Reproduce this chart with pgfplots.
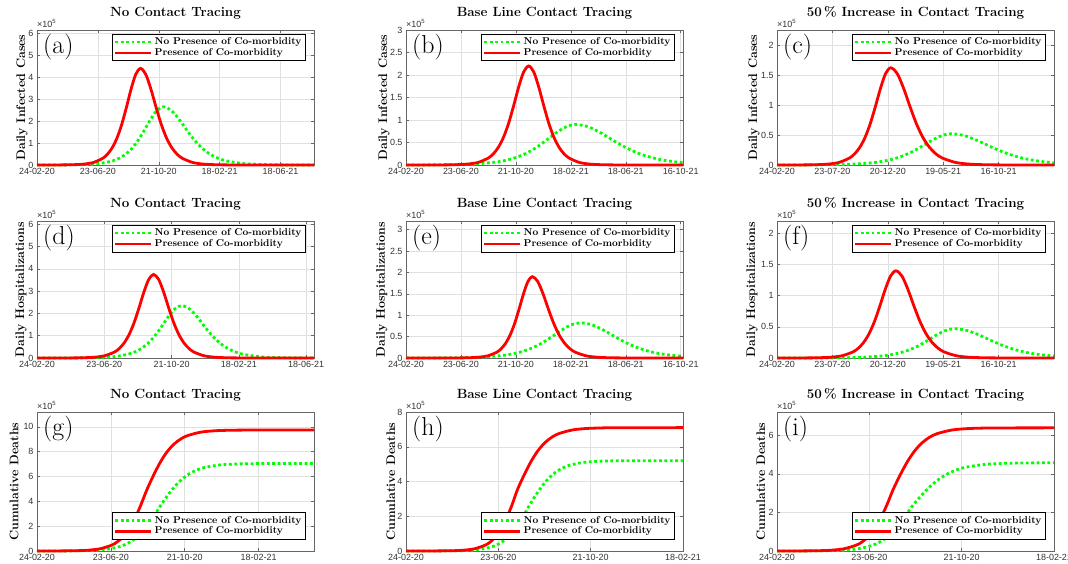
\documentclass[border=0pt]{standalone}
\usepackage{fontspec}
\setsansfont{Liberation Sans}
\usepackage{pgfplots}
\pgfplotsset{compat=1.18}
\definecolor{mgreen}{rgb}{0,1,0}
\definecolor{mred}{rgb}{1,0,0}
\pgfplotsset{
  panel/.style={
    scale only axis, width=277bp, anchor=south west,
    xmin=0, ymin=0,
    axis line style={black!60, line width=0.6bp},
    every tick/.style={black!60, line width=0.5bp},
    tick align=inside, major tick length=3bp,
    grid=major, major grid style={black!12, line width=0.5bp},
    ticklabel style={font=\sffamily\fontsize{9}{10}\selectfont, text=black!80},
    /pgf/number format/assume math mode=true,
    scaled y ticks=false, scaled x ticks=false,
    title style={font=\bfseries\fontsize{13.4}{15}\selectfont, at={(0.5,1)}, anchor=base, yshift=8bp},
    ylabel style={font=\bfseries\fontsize{12.5}{14}\selectfont},
    legend cell align=left,
    legend image code/.code={\draw[#1] (0bp,0bp) -- (36bp,0bp);},
    legend style={draw=black, fill=white, font=\bfseries\fontsize{10}{11}\selectfont, inner sep=1.5bp, row sep=-1.5bp},
    clip=false,
  },
  greenl/.style={mgreen, line width=2.8bp, dash pattern=on 2.8bp off 2.6bp, smooth},
  redl/.style={mred, line width=2.8bp, smooth},
  top legend/.style={legend style={at={(0.968,0.97)}, anchor=north east}},
  bottom legend/.style={legend style={at={(0.968,0.085)}, anchor=south east}},
  ylab/.style={y label style={at={(axis description cs:#1,0.5)}, anchor=center}},
  row1/.style={height=135bp, ylabel={Daily Infected Cases}},
  row2/.style={height=137bp, ylabel={Daily Hospitalizations}},
  row3/.style={height=139bp, ylabel={Cumulative Deaths}},
  xA/.style={xtick={0,120,240,360,480}, xticklabels={24-02-20,23-06-20,21-10-20,18-02-21,18-06-21}},
  xB/.style={xmax=605, xtick={0,120,240,360,480,600}, xticklabels={24-02-20,23-06-20,21-10-20,18-02-21,18-06-21,16-10-21}},
  xC/.style={xmax=750, xtick={0,150,300,450,600}, xticklabels={24-02-20,23-07-20,20-12-20,19-05-21,16-10-21}},
  xG/.style={xtick={0,120,240,360}, xticklabels={24-02-20,23-06-20,21-10-20,18-02-21}},
}
\newcommand{\decor}[1]{%
  \node[anchor=south west, font=\sffamily\fontsize{9}{10}\selectfont, text=black!80, inner sep=0pt] at ([yshift=2bp]rel axis cs:0,1) {×10\textsuperscript{5}};
  \node[anchor=north west, font=\fontsize{26}{28}\selectfont, inner sep=0pt] at ([xshift=6bp,yshift=-4bp]rel axis cs:0,1) {(#1)};
}
\begin{document}
\begin{tikzpicture}
\useasboundingbox (0,0) rectangle (1068bp,564bp);
% ---------------- (a)
\begin{axis}[panel, row1, xA, at={(37bp,399bp)}, xmax=546, ymax=6.15, ytick={0,1,2,3,4,5,6},
  title={No Contact Tracing}, ylab=-0.054, top legend]
\addplot[greenl] coordinates {(0,0.0005) (49,0.0036) (74,0.0096) (99,0.0262) (124,0.0705) (149,0.187) (161.5,0.302) (174,0.479) (186.5,0.743) (199,1.113) (211.5,1.581) (224,2.084) (236.5,2.491) (249,2.65) (264.5,2.491) (280,2.084) (295.5,1.581) (311,1.113) (326.5,0.743) (342,0.479) (357.5,0.302) (373,0.187) (404,0.0705) (435,0.0262) (466,0.0096) (497,0.0036) (546,0.0004)};
\addlegendentry{No Presence of Co-morbidity}
\addplot[redl] coordinates {(0,0) (19,0.0008) (56,0.0059) (74.5,0.016) (93,0.0434) (111.5,0.117) (130,0.311) (139.25,0.501) (148.5,0.795) (157.75,1.234) (167,1.848) (176.25,2.625) (185.5,3.460) (194.75,4.136) (204,4.4) (214.25,4.136) (224.5,3.460) (234.75,2.625) (245,1.848) (255.25,1.234) (265.5,0.795) (275.75,0.501) (286,0.311) (306.5,0.117) (327,0.0434) (347.5,0.016) (368,0.0059) (409,0.0008) (546,0)};
\addlegendentry{Presence of Co-morbidity}
\decor{a}
\end{axis}
% ---------------- (b)
\begin{axis}[panel, row1, xB, at={(406bp,399bp)}, ymax=3, ytick={0,0.5,...,3},
  title={Base Line Contact Tracing}, ylab=-0.079, top legend]
\addplot[greenl] coordinates {(0,0.0008) (19,0.0012) (63,0.0033) (107,0.0089) (151,0.0239) (195,0.0636) (217,0.102) (239,0.163) (261,0.252) (283,0.378) (305,0.537) (327,0.708) (349,0.846) (371,0.9) (398.75,0.846) (426.5,0.708) (454.25,0.537) (482,0.378) (509.75,0.252) (537.5,0.163) (565.25,0.102) (593,0.0636) (605,0.0516)};
\addlegendentry{No Presence of Co-morbidity}
\addplot[redl] coordinates {(0,0) (48,0.0004) (92,0.0029) (114,0.008) (136,0.0217) (158,0.0585) (180,0.156) (191,0.250) (202,0.398) (213,0.617) (224,0.924) (235,1.313) (246,1.730) (257,2.068) (268,2.2) (279,2.068) (290,1.730) (301,1.313) (312,0.924) (323,0.617) (334,0.398) (345,0.250) (356,0.156) (378,0.0585) (400,0.0217) (422,0.008) (444,0.0029) (488,0.0004) (605,0)};
\addlegendentry{Presence of Co-morbidity}
\decor{b}
\end{axis}
% ---------------- (c)
\begin{axis}[panel, row1, xC, at={(777bp,399bp)}, ymax=2.25, ytick={0,0.5,...,2},
  title={50\,\% Increase in Contact Tracing}, ylab=-0.083, top legend]
\addplot[greenl] coordinates {(0,0.0004) (41,0.0007) (95,0.0019) (149,0.0051) (203,0.0138) (257,0.0368) (284,0.0592) (311,0.094) (338,0.146) (365,0.218) (392,0.310) (419,0.409) (446,0.489) (473,0.52) (507.5,0.489) (542,0.409) (576.5,0.310) (611,0.218) (645.5,0.146) (680,0.094) (714.5,0.0592) (750,0.0365)};
\addlegendentry{No Presence of Co-morbidity}
\addplot[redl] coordinates {(0,0) (28,0.0003) (84,0.0022) (112,0.0059) (140,0.016) (168,0.0431) (196,0.115) (210,0.184) (224,0.293) (238,0.454) (252,0.680) (266,0.966) (280,1.274) (294,1.523) (308,1.62) (325.5,1.523) (343,1.274) (360.5,0.966) (378,0.680) (395.5,0.454) (413,0.293) (430.5,0.184) (448,0.115) (483,0.0431) (518,0.016) (553,0.0059) (588,0.0022) (658,0.0003) (750,0)};
\addlegendentry{Presence of Co-morbidity}
\decor{c}
\end{axis}
% ---------------- (d)
\begin{axis}[panel, row2, xA, at={(37bp,206bp)}, xmax=494, ymax=6.15, ytick={0,1,2,3,4,5,6},
  title={No Contact Tracing}, ylab=-0.058, top legend]
\addplot[greenl] coordinates {(0,0.0003) (18,0.0004) (66,0.0031) (90,0.0086) (114,0.0232) (138,0.0625) (162,0.166) (174,0.267) (186,0.425) (198,0.659) (210,0.987) (222,1.402) (234,1.848) (246,2.209) (258,2.35) (271.75,2.209) (285.5,1.848) (299.25,1.402) (313,0.987) (326.75,0.659) (340.5,0.425) (354.25,0.267) (368,0.166) (395.5,0.0625) (423,0.0232) (450.5,0.0086) (478,0.0031) (494,0.002)};
\addlegendentry{No Presence of Co-morbidity}
\addplot[redl] coordinates {(0,0) (33,0.0007) (68,0.005) (85.5,0.0137) (103,0.037) (120.5,0.0998) (138,0.265) (146.75,0.427) (155.5,0.678) (164.25,1.052) (173,1.575) (181.75,2.237) (190.5,2.949) (199.25,3.525) (208,3.75) (217,3.525) (226,2.949) (235,2.237) (244,1.575) (253,1.052) (262,0.678) (271,0.427) (280,0.265) (298,0.0998) (316,0.037) (334,0.0137) (352,0.005) (388,0.0007) (494,0)};
\addlegendentry{Presence of Co-morbidity}
\decor{d}
\end{axis}
% ---------------- (e)
\begin{axis}[panel, row2, xB, at={(406bp,206bp)}, ymax=3.2, ytick={0,0.5,...,3},
  title={Base Line Contact Tracing}, ylab=-0.087, top legend]
\addplot[greenl] coordinates {(0,0.0005) (38,0.0011) (81,0.003) (124,0.0081) (167,0.0218) (210,0.058) (231.5,0.0933) (253,0.148) (274.5,0.230) (296,0.344) (317.5,0.489) (339,0.645) (360.5,0.771) (382,0.82) (407.25,0.771) (432.5,0.645) (457.75,0.489) (483,0.344) (508.25,0.230) (533.5,0.148) (558.75,0.0933) (584,0.058) (605,0.0387)};
\addlegendentry{No Presence of Co-morbidity}
\addplot[redl] coordinates {(0,0) (81,0.0003) (120,0.0025) (139.5,0.0069) (159,0.0188) (178.5,0.0505) (198,0.134) (207.75,0.216) (217.5,0.343) (227.25,0.533) (237,0.798) (246.75,1.134) (256.5,1.494) (266.25,1.786) (276,1.9) (287.75,1.786) (299.5,1.494) (311.25,1.134) (323,0.798) (334.75,0.533) (346.5,0.343) (358.25,0.216) (370,0.134) (393.5,0.0505) (417,0.0188) (440.5,0.0069) (464,0.0025) (511,0.0003) (605,0)};
\addlegendentry{Presence of Co-morbidity}
\decor{e}
\end{axis}
% ---------------- (f)
\begin{axis}[panel, row2, xC, at={(777bp,206bp)}, ymax=2.2, ytick={0,0.5,...,2},
  title={50\,\% Increase in Contact Tracing}, ylab=-0.09, top legend]
\addplot[greenl] coordinates {(0,0.0001) (89,0.0006) (138,0.0017) (187,0.0046) (236,0.0125) (285,0.0332) (309.5,0.0535) (334,0.0849) (358.5,0.132) (383,0.197) (407.5,0.280) (432,0.370) (456.5,0.442) (481,0.47) (514,0.442) (547,0.370) (580,0.280) (613,0.197) (646,0.132) (679,0.0849) (712,0.0535) (750,0.0307)};
\addlegendentry{No Presence of Co-morbidity}
\addplot[redl] coordinates {(0,0) (32,0.0003) (90,0.0019) (119,0.0051) (148,0.0138) (177,0.0372) (206,0.099) (220.5,0.159) (235,0.253) (249.5,0.393) (264,0.588) (278.5,0.835) (293,1.101) (307.5,1.316) (322,1.4) (338.25,1.316) (354.5,1.101) (370.75,0.835) (387,0.588) (403.25,0.393) (419.5,0.253) (435.75,0.159) (452,0.099) (484.5,0.0372) (517,0.0138) (549.5,0.0051) (582,0.0019) (647,0.0003) (750,0)};
\addlegendentry{Presence of Co-morbidity}
\decor{f}
\end{axis}
% ---------------- (g)
\begin{axis}[panel, row3, xG, at={(37bp,13bp)}, xmax=450, ymax=11.2, ytick={0,2,4,6,8,10},
  title={No Contact Tracing}, ylab=-0.083, bottom legend]
\addplot[greenl] coordinates {(0,0.001) (35,0.004) (67,0.0174) (89,0.0472) (111,0.127) (133,0.334) (144,0.535) (155,0.840) (166,1.286) (177,1.896) (188,2.661) (199,3.525) (211,4.389) (223,5.154) (235,5.764) (247,6.210) (259,6.515) (271,6.716) (295,6.923) (319,7.003) (343,7.032) (367,7.044) (391,7.048) (450,7.05)};
\addlegendentry{No Presence of Co-morbidity}
\addplot[redl] coordinates {(0,0.001) (30,0.004) (64,0.0241) (83,0.0652) (102,0.1755) (121,0.462) (130.5,0.740) (140,1.162) (149.5,1.778) (159,2.622) (168.5,3.681) (178,4.875) (189,6.069) (200,7.128) (211,7.972) (222,8.588) (233,9.010) (244,9.288) (266,9.575) (288,9.685) (310,9.726) (332,9.741) (354,9.747) (450,9.75)};
\addlegendentry{Presence of Co-morbidity}
\decor{g}
\end{axis}
% ---------------- (h)
\begin{axis}[panel, row3, xG, at={(406bp,13bp)}, xmax=360, ymax=8, ytick={0,2,4,6,8},
  title={Base Line Contact Tracing}, ylab=-0.055, bottom legend]
\addplot[greenl] coordinates {(0,0.0002) (32,0.0017) (64,0.0128) (80,0.0348) (96,0.0936) (112,0.246) (120,0.395) (128,0.620) (136,0.948) (144,1.398) (152,1.963) (160,2.6) (169,3.237) (178,3.802) (187,4.252) (196,4.580) (205,4.805) (214,4.954) (232,5.106) (250,5.165) (268,5.187) (286,5.195) (360,5.2)};
\addlegendentry{No Presence of Co-morbidity}
\addplot[redl] coordinates {(0,0.0002) (30,0.0018) (61,0.0175) (75,0.0475) (89,0.128) (103,0.337) (110,0.539) (117,0.846) (124,1.295) (131,1.909) (138,2.680) (145,3.55) (154,4.420) (163,5.191) (172,5.805) (181,6.254) (190,6.561) (199,6.763) (217,6.972) (235,7.052) (253,7.082) (271,7.094) (360,7.1)};
\addlegendentry{Presence of Co-morbidity}
\decor{h}
\end{axis}
% ---------------- (i)
\begin{axis}[panel, row3, xG, at={(777bp,13bp)}, xmax=360, ymax=7.2, ytick={0,2,4,6},
  title={50\,\% Increase in Contact Tracing}, ylab=-0.058, bottom legend]
\addplot[greenl] coordinates {(0,0.0005) (30,0.0024) (61,0.0113) (80,0.0306) (99,0.0823) (118,0.217) (127.5,0.347) (137,0.545) (146.5,0.834) (156,1.229) (165.5,1.725) (175,2.285) (187,2.845) (199,3.341) (211,3.736) (223,4.025) (235,4.223) (247,4.353) (271,4.488) (295,4.539) (319,4.559) (343,4.566) (360,4.57)};
\addlegendentry{No Presence of Co-morbidity}
\addplot[redl] coordinates {(0,0.0005) (25,0.0024) (55,0.0158) (71,0.0427) (87,0.115) (103,0.302) (111,0.484) (119,0.760) (127,1.164) (135,1.716) (143,2.408) (151,3.19) (160.5,3.972) (170,4.664) (179.5,5.216) (189,5.620) (198.5,5.896) (208,6.078) (227,6.265) (246,6.337) (265,6.364) (284,6.374) (360,6.38)};
\addlegendentry{Presence of Co-morbidity}
\decor{i}
\end{axis}
\end{tikzpicture}
\end{document}
